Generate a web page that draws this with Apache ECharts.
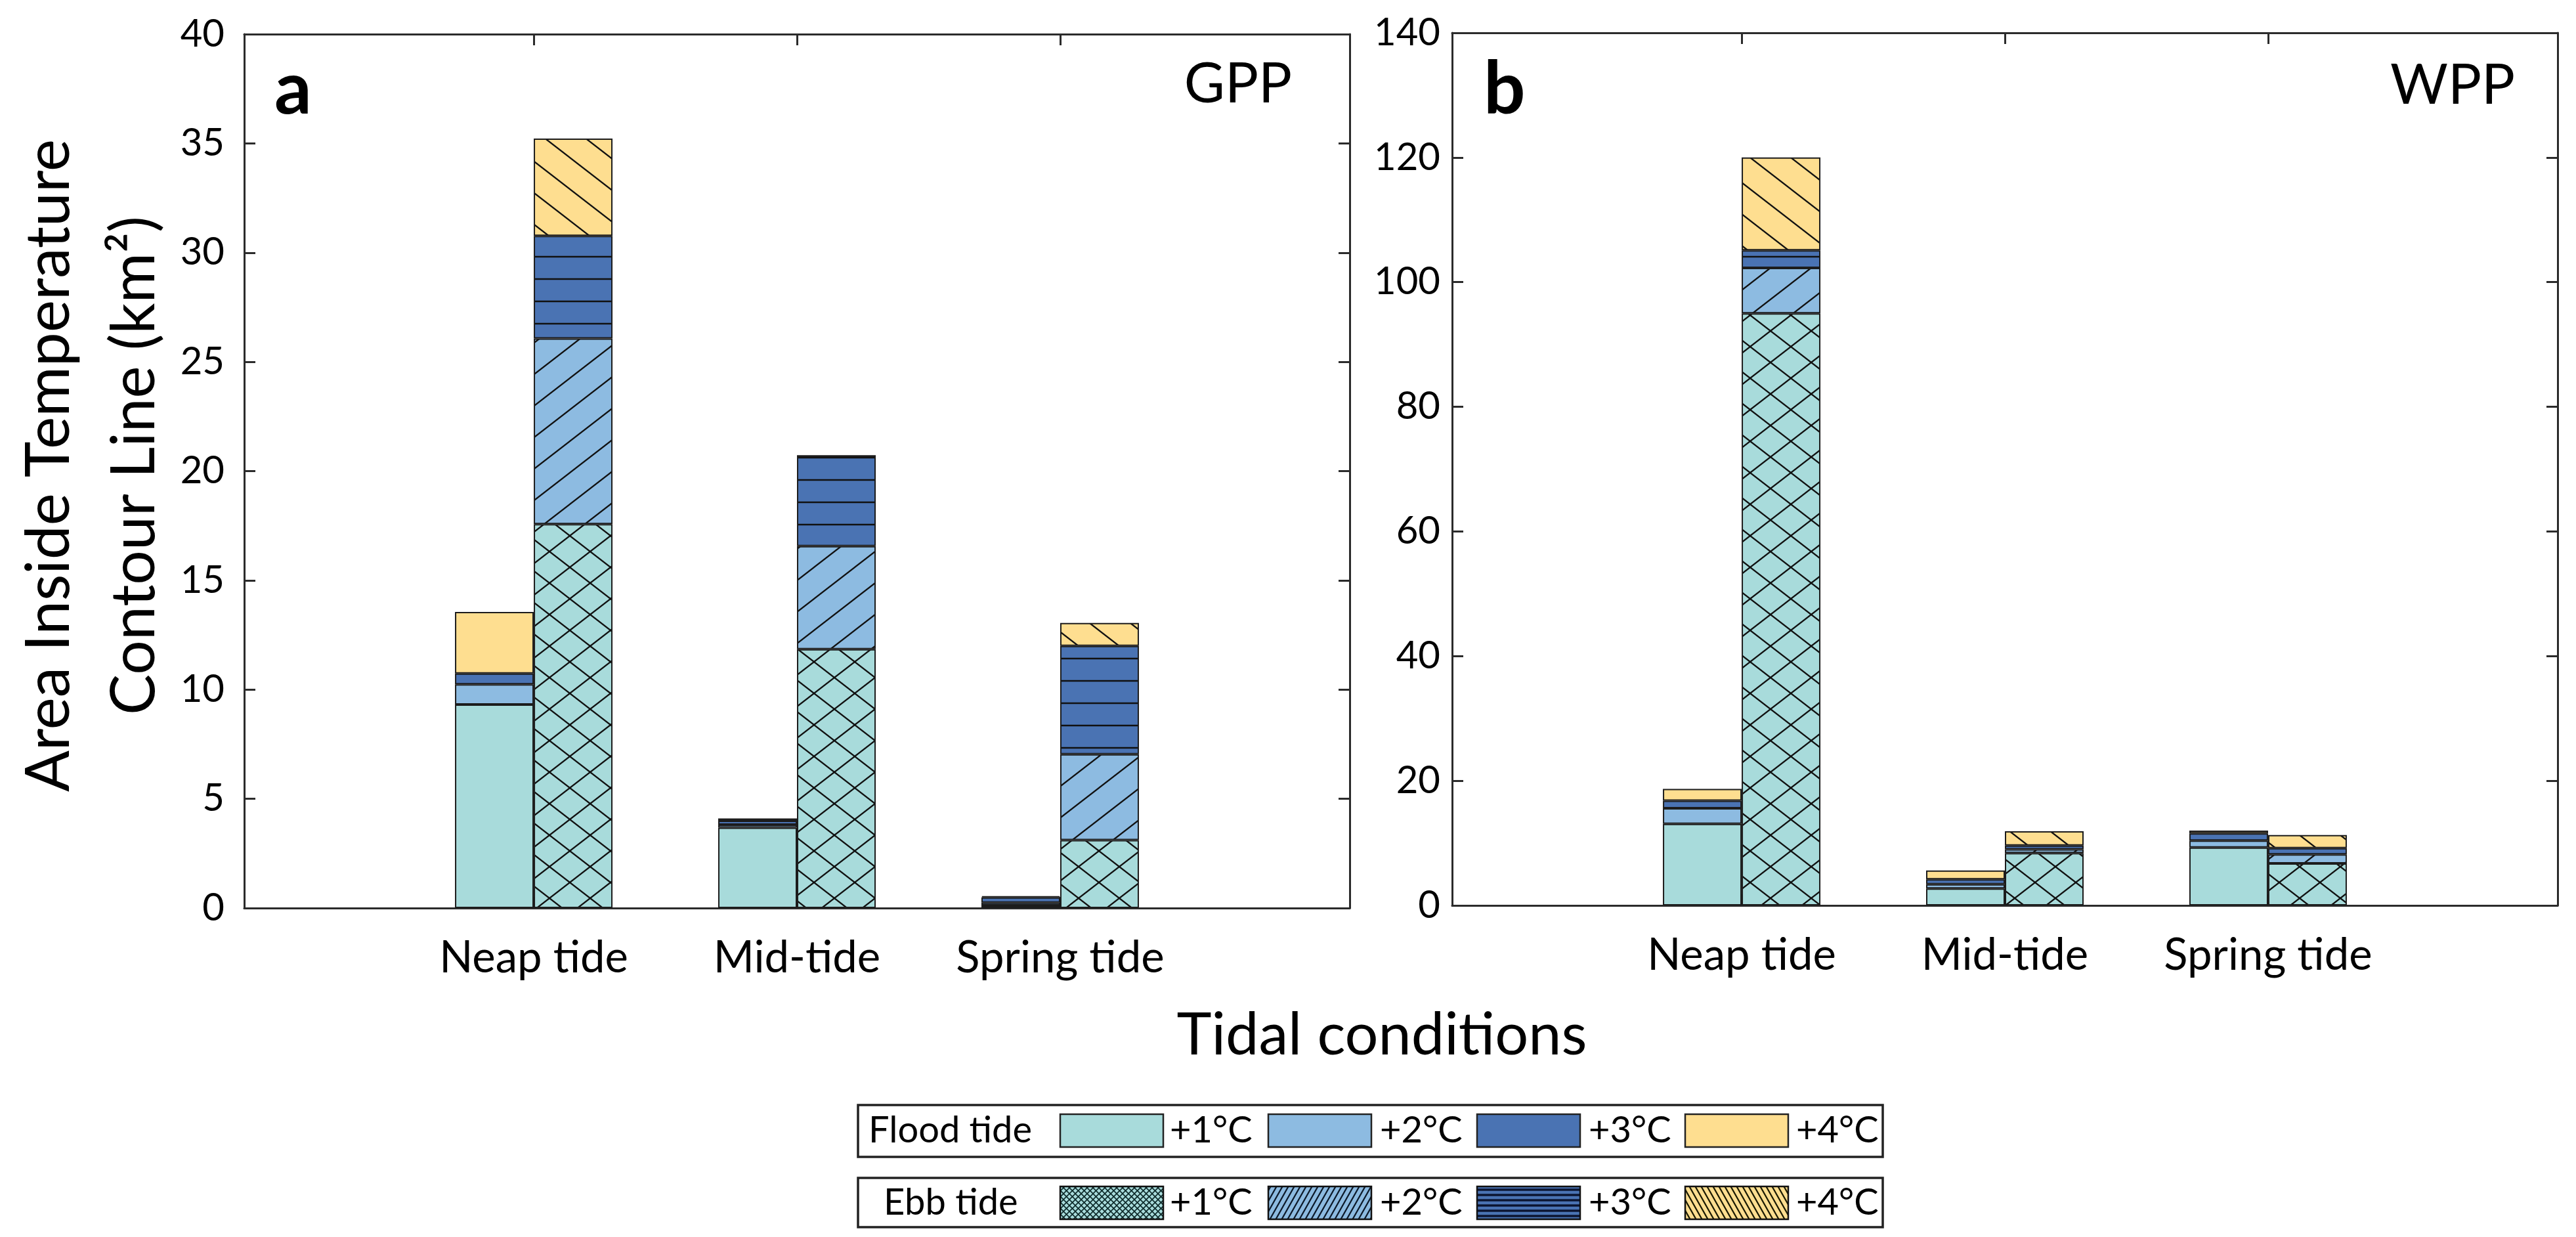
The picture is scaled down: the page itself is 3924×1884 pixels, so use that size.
<!DOCTYPE html>
<html><head><meta charset="utf-8">
<script src="https://cdn.jsdelivr.net/npm/echarts@6/dist/echarts.min.js"></script>
<style>html,body{margin:0;padding:0;background:#fff}#c{width:3924px;height:1884px}</style>
</head><body><div id="c"></div>
<script>
// ---------- data ----------
const categories = ['Neap tide', 'Mid-tide', 'Spring tide'];
const levels = ['+1°C', '+2°C', '+3°C', '+4°C'];
const yTicksA = [0, 40, 5];      // min, max, interval (panel a)
const yTicksB = [0, 140, 20];    // min, max, interval (panel b)
// panel a: GPP (segment heights, km²)
const gppFlood1 = [9.32, 3.68, 0.12];
const gppFlood2 = [0.92, 0.14, 0.13];
const gppFlood3 = [0.50, 0.18, 0.24];
const gppFlood4 = [2.81, 0.10, 0.05];
const gppEbb1 = [17.57, 11.85, 3.11];
const gppEbb2 = [8.50, 4.72, 3.93];
const gppEbb3 = [4.70, 4.13, 4.96];
const gppEbb4 = [4.45, 0, 1.05];
// panel b: WPP
const wppFlood1 = [13.1, 2.7, 9.3];
const wppFlood2 = [2.5, 0.7, 1.1];
const wppFlood3 = [1.2, 0.8, 1.15];
const wppFlood4 = [1.9, 1.4, 0.45];
const wppEbb1 = [95.0, 8.4, 6.75];
const wppEbb2 = [7.3, 0.6, 1.45];
const wppEbb3 = [2.8, 0.6, 1.0];
const wppEbb4 = [14.9, 2.3, 2.1];

// ---------- styles ----------
const FONT = "Lato, 'Liberation Sans', sans-serif";
const colors = ['#A8DBDB', '#8DBBE1', '#4A73B3', '#FEDE90'];
const EDGE = '#1c1c1c';

function tile(bg, w, h, lw, draw, stroke) {
  const c = document.createElement('canvas');
  c.width = w; c.height = h;
  const g = c.getContext('2d');
  g.fillStyle = bg; g.fillRect(0, 0, w, h);
  g.strokeStyle = stroke || '#111'; g.lineWidth = lw; g.lineCap = 'butt';
  draw(g, w, h);
  return c;
}
function up(g, w, h) { g.beginPath(); for (const dx of [-w, 0, w]) { g.moveTo(dx - w, 2 * h); g.lineTo(dx + 2 * w, -h); } g.stroke(); }
function down(g, w, h) { g.beginPath(); for (const dx of [-w, 0, w]) { g.moveTo(dx - w, -h); g.lineTo(dx + 2 * w, 2 * h); } g.stroke(); }
function cross(g, w, h) { up(g, w, h); down(g, w, h); }
function horiz(g, w, h) { g.beginPath(); g.moveTo(0, h / 2); g.lineTo(w, h / 2); g.stroke(); }

const ebbTiles = [
  tile(colors[0], 62, 48, 2.3, cross),
  tile(colors[1], 62, 48, 2.3, up),
  tile(colors[2], 10, 34, 2.5, horiz),
  tile(colors[3], 62, 48, 2.3, down)
];
const legTiles = [
  tile(colors[0], 9, 9, 1.6, cross, '#0d2a2a'),
  tile(colors[1], 9, 16, 2.2, up, '#0d1a2a'),
  tile(colors[2], 10, 8, 3.4, horiz, '#0b1430'),
  tile(colors[3], 9, 16, 2.2, down, '#1a1a00')
];

// data items are [value, position]; encode maps them so the value column is stacked
function mkSeries(p, tide, arrs, isEbb) {
  return arrs.map((arr, i) => ({
    type: 'bar', name: tide + ' ' + levels[i] + ' ' + p,
    xAxisIndex: p * 2, yAxisIndex: p * 2, stack: tide + p,
    barWidth: 120, barGap: '0%',
    encode: { x: 1, y: 0 },
    data: categories.map((c, j) => [arr[j], j + 1]),
    itemStyle: { color: isEbb ? { image: ebbTiles[i], repeat: 'repeat' } : colors[i], borderColor: EDGE, borderWidth: 2 },
    emphasis: { disabled: true }, silent: true
  }));
}
const series = [].concat(
  mkSeries(0, 'Flood', [gppFlood1, gppFlood2, gppFlood3, gppFlood4], false),
  mkSeries(0, 'Ebb', [gppEbb1, gppEbb2, gppEbb3, gppEbb4], true),
  mkSeries(1, 'Flood', [wppFlood1, wppFlood2, wppFlood3, wppFlood4], false),
  mkSeries(1, 'Ebb', [wppEbb1, wppEbb2, wppEbb3, wppEbb4], true)
);

const axisLine = { show: true, onZero: false, lineStyle: { color: '#2b2b2b', width: 3 } };
const tickStyle = { lineStyle: { color: '#2b2b2b', width: 3 } };
const catPos = categories.map((c, j) => j + 1);

function xAxes(g) {
  return [
    { type: 'value', gridIndex: g, position: 'bottom', min: -0.1, max: 4.1,
      axisLine: axisLine, splitLine: { show: false },
      axisTick: Object.assign({ show: true, inside: true, length: 17, customValues: catPos }, tickStyle),
      axisLabel: { show: true, customValues: catPos, margin: 43, fontSize: 67, fontFamily: FONT, color: '#000',
        formatter: v => categories[Math.round(v) - 1] } },
    { type: 'value', gridIndex: g, position: 'top', min: -0.1, max: 4.1,
      axisLine: axisLine, splitLine: { show: false },
      axisTick: Object.assign({ show: true, inside: true, length: 17, customValues: catPos }, tickStyle),
      axisLabel: { show: false } }
  ];
}
function yAxes(g, t, margin) {
  return [
    { type: 'value', gridIndex: g, position: 'left', min: t[0], max: t[1], interval: t[2],
      axisLine: axisLine, splitLine: { show: false },
      axisTick: Object.assign({ show: true, inside: true, length: 17 }, tickStyle),
      axisLabel: { show: true, margin: margin, fontSize: 58, fontFamily: FONT, color: '#000' } },
    { type: 'value', gridIndex: g, position: 'right', min: t[0], max: t[1], interval: t[2],
      axisLine: axisLine, splitLine: { show: false },
      axisTick: Object.assign({ show: true, inside: true, length: 17 }, tickStyle),
      axisLabel: { show: false } }
  ];
}

function txt(x, y, text, size, opts) {
  return { type: 'text', x: x, y: y, rotation: (opts && opts.rot) || 0, silent: true, z: 100,
    style: { text: text, fontSize: size, fontFamily: FONT, fontWeight: (opts && opts.bold) ? 'bold' : 'normal', fill: '#000',
      textAlign: (opts && opts.align) || 'left', textVerticalAlign: 'middle', align: (opts && opts.align) || 'left', verticalAlign: 'middle' } };
}

const graphics = [];
// panel labels
graphics.push(txt(418, 137, 'a', 112, { bold: true }));
graphics.push(txt(2260, 137, 'b', 112, { bold: true }));
graphics.push(txt(1968, 129, 'GPP', 85, { align: 'right' }));
graphics.push(txt(3831, 131, 'WPP', 85, { align: 'right' }));
// axis titles
graphics.push(txt(75, 709, 'Area Inside Temperature', 93, { align: 'center', rot: Math.PI / 2 }));
graphics.push(txt(205, 709, 'Contour Line (km²)', 93, { align: 'center', rot: Math.PI / 2 }));
graphics.push(txt(2105, 1577, 'Tidal conditions', 90, { align: 'center' }));
// legend
const boxX = 1307, boxW = 1561;
graphics.push({ type: 'rect', shape: { x: boxX, y: 1683, width: boxW, height: 79 }, style: { fill: '#fff', stroke: '#222', lineWidth: 3.5 }, silent: true });
graphics.push({ type: 'rect', shape: { x: boxX, y: 1794, width: boxW, height: 75 }, style: { fill: '#fff', stroke: '#222', lineWidth: 3.5 }, silent: true });
graphics.push(txt(1323, 1722, 'Flood tide', 56));
graphics.push(txt(1346, 1832, 'Ebb tide', 56));
const swX = [1615, 1932, 2250, 2567];
const lbX = [1782, 2102, 2420, 2736];
for (let i = 0; i < 4; i++) {
  graphics.push({ type: 'rect', shape: { x: swX[i], y: 1697, width: 157, height: 50 }, style: { fill: colors[i], stroke: '#222', lineWidth: 2.5 }, silent: true });
  graphics.push({ type: 'rect', shape: { x: swX[i], y: 1807, width: 157, height: 50 }, style: { fill: { image: legTiles[i], repeat: 'repeat' }, stroke: '#111', lineWidth: 2.5 }, silent: true });
  graphics.push(txt(lbX[i], 1722, levels[i], 56));
  graphics.push(txt(lbX[i], 1832, levels[i], 56));
}

const chart = echarts.init(document.getElementById('c'), null, { renderer: 'canvas' });
chart.setOption({
  animation: false,
  backgroundColor: '#fff',
  grid: [
    { left: 372, width: 1684, top: 52, height: 1331, containLabel: false },
    { left: 2212, width: 1684, top: 50, height: 1329, containLabel: false }
  ],
  xAxis: xAxes(0).concat(xAxes(1)),
  yAxis: yAxes(0, yTicksA, 30).concat(yAxes(1, yTicksB, 18)),
  series: series,
  graphic: graphics
});
</script></body></html>
